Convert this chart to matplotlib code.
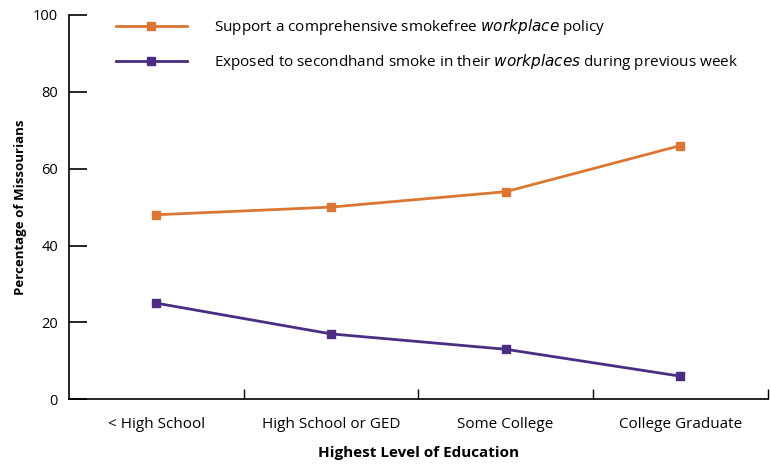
import matplotlib.pyplot as plt
import numpy as np

categories = ["< High School", "High School or GED", "Some College", "College Graduate"]
support = [48, 50, 54, 66]
exposed = [25, 17, 13, 6]
y_ticks = [0, 20, 40, 60, 80, 100]

plt.rcParams['font.family'] = ['Open Sans', 'DejaVu Sans']

orange = '#DC7633'
purple = '#4B2D84'

fig = plt.figure(figsize=(7.71, 4.68), dpi=100)
ax = fig.add_axes([0.0895, 0.147, 0.906, 0.821])

x = np.arange(len(categories))
l1, = ax.plot(x, support, color=orange, lw=2, marker='s', ms=6, mec=orange)
l2, = ax.plot(x, exposed, color=purple, lw=2, marker='s', ms=6, mec=purple)

ax.set_xlim(-0.5, 3.5)
ax.set_ylim(0, 100)
ax.set_yticks(y_ticks)
ax.tick_params(axis='y', direction='in', length=13, width=1.2, labelsize=10.5, pad=8)
# tick marks between categories, labels centred under each category
ax.set_xticks(np.arange(len(categories)) + 0.5)
ax.set_xticklabels([])
ax.set_xticks(x, minor=True)
ax.set_xticklabels(categories, minor=True)
ax.tick_params(axis='x', which='major', direction='in', length=7, width=1)
ax.tick_params(axis='x', which='minor', length=0, pad=13, labelsize=11)

for s in ['top', 'right']:
    ax.spines[s].set_visible(False)
ax.spines['left'].set_linewidth(1.2)
ax.spines['bottom'].set_linewidth(1.2)

ax.set_ylabel("Percentage of Missourians", fontweight='bold', fontsize=9.5, labelpad=4)
ax.set_xlabel("Highest Level of Education", fontweight='bold', fontsize=11, labelpad=10)

leg = fig.legend([l1, l2],
                 ["Support a comprehensive smokefree $\\it{workplace}$ policy",
                  "Exposed to secondhand smoke in their $\\it{workplaces}$ during previous week"],
                 loc='upper left', bbox_to_anchor=(0.133, 0.993), frameon=False,
                 fontsize=11, handlelength=4.6, handletextpad=1.8, labelspacing=1.0)

fig.savefig('out.png', dpi=100)
